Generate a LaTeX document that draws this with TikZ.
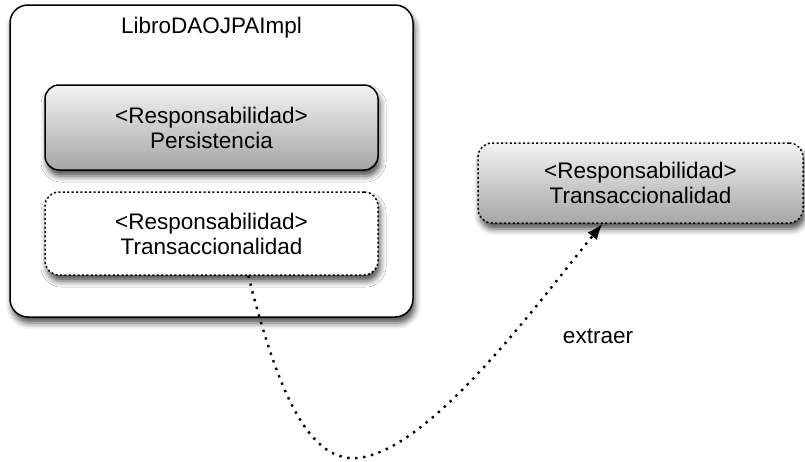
\documentclass[tikz,border=0pt]{standalone}
\usepackage{fontspec}
\setmainfont{Liberation Sans}
\usetikzlibrary{positioning,shadows.blur,arrows.meta}

\tikzset{
    texto/.style={font=\fontsize{22.5}{25}\selectfont, align=center, text=black},
    sombra/.style={blur shadow={shadow xshift=2pt, shadow yshift=-6pt, shadow blur radius=6pt, shadow opacity=70}},
    clase/.style={draw=black, line width=1.5pt, rounded corners=18pt, fill=white, sombra},
    resp/.style={texto, rounded corners=14pt, line width=1.5pt, sombra},
    llena/.style={resp, draw=black, top color=black!5, bottom color=black!35},
    punteada/.style={resp, draw=black, dash pattern=on 2pt off 2.4pt},
    extraccion/.style={line width=2.4pt, dash pattern=on 2.4pt off 5.6pt, -{Latex[length=16pt,width=12pt]}}
}

\begin{document}
\begin{tikzpicture}[x=1pt, y=-1pt]
    \useasboundingbox (0,0) rectangle (805,461);

    % clase y sus dos responsabilidades
    \node[clase, minimum width=403pt, minimum height=312pt] (impl) at (211.5,161) {};
    \node[texto, inner sep=0pt, below=13pt of impl.north] (titulo) {LibroDAOJPAImpl};

    \node[llena, minimum width=333pt, minimum height=85pt] (persist) at (211.5,127.5)
        {<Responsabilidad>\\Persistencia};
    \node[punteada, fill=white, minimum width=333pt, minimum height=83pt] (trans) at (211.5,233.5)
        {<Responsabilidad>\\Transaccionalidad};

    % responsabilidad extraida
    \node[punteada, top color=black!5, bottom color=black!35, minimum width=325pt, minimum height=80pt] (extraida) at (640.5,183)
        {<Responsabilidad>\\Transaccionalidad};

    \draw[extraccion] (trans.-49.5) .. controls (275,380) and (305,462) .. (357,458)
        .. controls (430,452) and (540,300) .. (extraida.-133);

    \node[texto] (extraer) at (598,336) {extraer};
\end{tikzpicture}
\end{document}
